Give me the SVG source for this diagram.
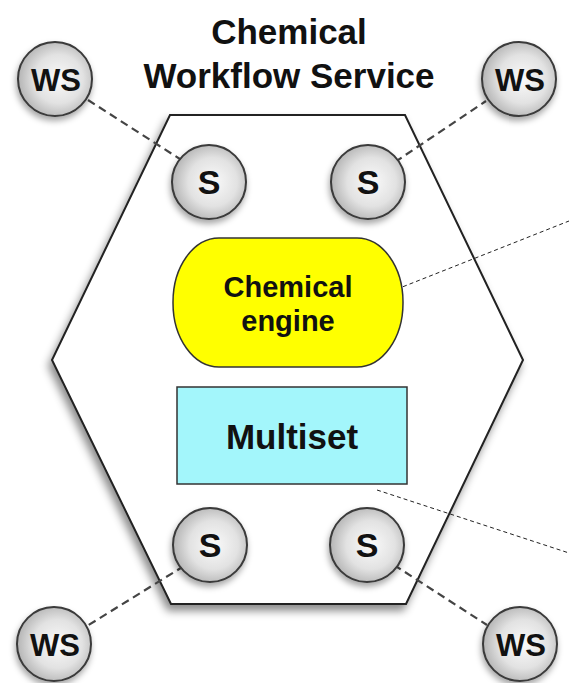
<svg xmlns="http://www.w3.org/2000/svg" width="569" height="683" viewBox="0 0 569 683">
<style>
.t{font-family:"Liberation Sans",Arial,Helvetica,sans-serif;font-weight:bold;fill:#111;text-anchor:middle}
.ball{fill:url(#ballGrad);stroke:#3a3a3a;stroke-width:2;filter:url(#sh)}
.link{stroke:#444;stroke-width:2.2;stroke-dasharray:8 5;fill:none}
.thin{stroke:#222;stroke-width:1;stroke-dasharray:4 3;fill:none}
</style>
<defs>
<radialGradient id="ballGrad" cx="0.55" cy="0.5" r="0.55">
<stop offset="0" stop-color="#fafafa"/>
<stop offset="0.6" stop-color="#e2e2e2"/>
<stop offset="1" stop-color="#b4b4b4"/>
</radialGradient>
<filter id="sh" x="-30%" y="-30%" width="160%" height="170%">
<feDropShadow dx="-1" dy="4" stdDeviation="3" flood-color="#000" flood-opacity="0.35"/>
</filter>
<filter id="hexsh" x="-20%" y="-20%" width="140%" height="140%">
<feDropShadow dx="-3" dy="6" stdDeviation="4" flood-color="#000" flood-opacity="0.45"/>
</filter>
</defs>
<rect width="569" height="683" fill="#ffffff"/>

<g id="title">
<text class="t" x="289" y="44" font-size="35">Chemical</text>
<text class="t" x="289" y="88" font-size="35">Workflow Service</text>
</g>

<g id="service">
<polygon points="170,115 405,115 523,360 406,604 171,604 52,360" fill="#ffffff" stroke="#222" stroke-width="2" filter="url(#hexsh)"/>
</g>

<g id="connectors">
<line class="link" x1="88" y1="100" x2="183" y2="161"/>
<line class="link" x1="395" y1="162" x2="486" y2="101"/>
<line class="link" x1="184" y1="566" x2="87" y2="626"/>
<line class="link" x1="394" y1="565" x2="487" y2="625"/>
<line class="thin" x1="377" y1="297" x2="569" y2="221"/>
<line class="thin" x1="377" y1="490" x2="569" y2="553"/>
</g>

<g id="engine">
<rect x="173" y="238" width="230" height="129" rx="46" ry="64" fill="#ffff00" stroke="#333" stroke-width="1.5"/>
<text class="t" x="288" y="297" font-size="29">Chemical</text>
<text class="t" x="288" y="331" font-size="29">engine</text>
</g>

<g id="multiset">
<rect x="177" y="387" width="230" height="97" fill="#a3f6fb" stroke="#333" stroke-width="1.5"/>
<text class="t" x="292" y="449" font-size="35">Multiset</text>
</g>

<g id="s-top-left"><circle class="ball" cx="209" cy="182" r="37"/><text class="t" x="209" y="194" font-size="34">S</text></g>
<g id="s-top-right"><circle class="ball" cx="368" cy="182" r="37"/><text class="t" x="368" y="194" font-size="34">S</text></g>
<g id="s-bottom-left"><circle class="ball" cx="210" cy="545" r="37"/><text class="t" x="210" y="557" font-size="34">S</text></g>
<g id="s-bottom-right"><circle class="ball" cx="367" cy="545" r="37"/><text class="t" x="367" y="557" font-size="34">S</text></g>

<g id="ws-top-left"><circle class="ball" cx="55" cy="79" r="37"/><text class="t" x="56" y="91" font-size="31">WS</text></g>
<g id="ws-top-right"><circle class="ball" cx="519" cy="79" r="37"/><text class="t" x="520" y="91" font-size="31">WS</text></g>
<g id="ws-bottom-left"><circle class="ball" cx="54" cy="644" r="37"/><text class="t" x="55" y="656" font-size="31">WS</text></g>
<g id="ws-bottom-right"><circle class="ball" cx="520" cy="644" r="37"/><text class="t" x="521" y="656" font-size="31">WS</text></g>
</svg>
